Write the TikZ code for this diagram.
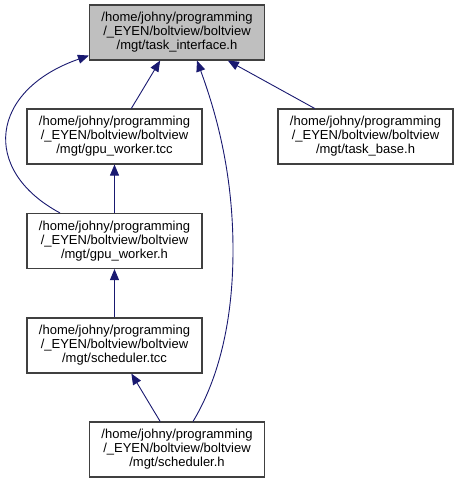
\documentclass[tikz,border=0pt]{standalone}
\usepackage{fontspec}
\setmainfont{Liberation Sans}
\usetikzlibrary{arrows.meta}
\definecolor{edgeblue}{RGB}{25,25,112}
\definecolor{boxline}{RGB}{64,64,64}
\definecolor{boxgrey}{RGB}{191,191,191}
\tikzset{
  filebox/.style={draw=boxline, line width=1.1pt, fill=white, minimum width=175pt, minimum height=55pt,
    inner sep=0pt, align=center, font=\fontsize{13}{14}\selectfont},
  edge/.style={draw=edgeblue, line width=0.9pt, -{Triangle[length=11pt,width=9pt]}}
}
\begin{document}
\begin{tikzpicture}[x=1pt,y=-1pt]
\useasboundingbox (0,0) rectangle (458,483);
\node[filebox, fill=boxgrey] (ti) at (177,32.5) {/home/johny/programming\\/\_EYEN/boltview/boltview\\/mgt/task\_interface.h};
\node[filebox] (gwt) at (114.5,136.5) {/home/johny/programming\\/\_EYEN/boltview/boltview\\/mgt/gpu\_worker.tcc};
\node[filebox] (tb) at (365.5,136.5) {/home/johny/programming\\/\_EYEN/boltview/boltview\\/mgt/task\_base.h};
\node[filebox] (gwh) at (114.5,241) {/home/johny/programming\\/\_EYEN/boltview/boltview\\/mgt/gpu\_worker.h};
\node[filebox] (stcc) at (114.5,345.5) {/home/johny/programming\\/\_EYEN/boltview/boltview\\/mgt/scheduler.tcc};
\node[filebox] (sh) at (177,449.5) {/home/johny/programming\\/\_EYEN/boltview/boltview\\/mgt/scheduler.h};
\draw[edge] (gwt) -- (ti);
\draw[edge] (tb) -- (ti);
\draw[edge] (gwh) -- (gwt);
\draw[edge] (stcc) -- (gwh);
\draw[edge] (sh) -- (stcc);
\draw[edge] ([xshift=-54.5pt]gwh.north) .. controls (-20,170) and (-10,90) .. ([yshift=5pt]ti.south west);
\draw[edge] ([xshift=16pt]sh.north) .. controls (215,385) and (233,330) .. (233,250) .. controls (233,170) and (215,110) .. ([xshift=20pt]ti.south);
\end{tikzpicture}
\end{document}
